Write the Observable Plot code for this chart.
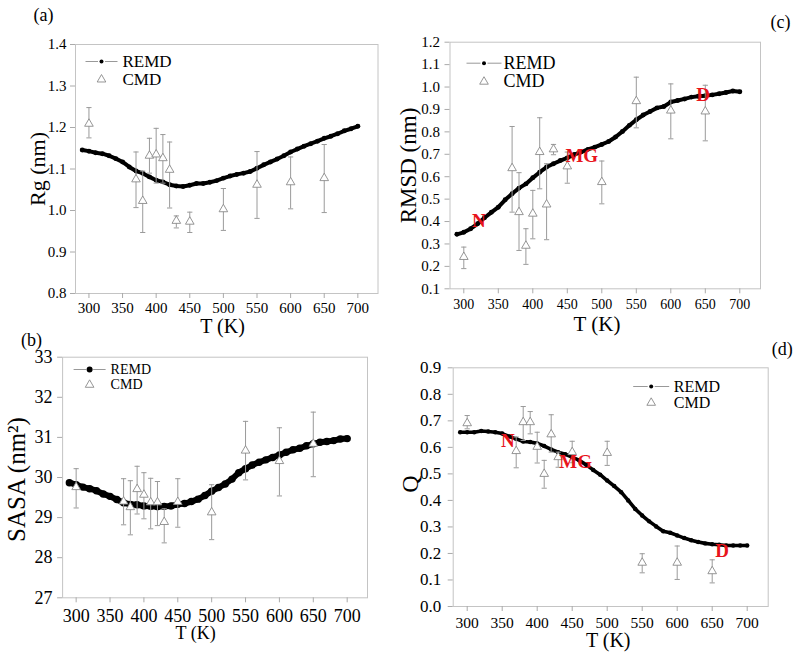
<!DOCTYPE html>
<html><head><meta charset="utf-8">
<script src="https://cdn.jsdelivr.net/npm/d3@7"></script>
<script src="https://cdn.jsdelivr.net/npm/@observablehq/plot@0.6"></script>
<style>
body{margin:0;background:#fff;}
#wrap{position:relative;width:800px;height:654px;overflow:hidden;background:#fff;}
#wrap svg{position:absolute;left:0;top:0;}
#wrap svg text{font-family:'Liberation Serif','Times New Roman',serif;}
</style></head><body><div id="wrap"></div>
<script>
// ---- data ----
const remdT = [290,300,310,320,330,340,350,360,370,380,390,400,410,420,430,440,450,460,470,480,490,500,510,520,530,540,550,560,570,580,590,600,610,620,630,640,650,660,670,680,690,700];
const remdRg = [1.146,1.143,1.139,1.137,1.132,1.125,1.117,1.105,1.095,1.090,1.081,1.073,1.069,1.062,1.059,1.058,1.061,1.065,1.065,1.068,1.072,1.078,1.083,1.087,1.090,1.094,1.102,1.110,1.117,1.124,1.132,1.141,1.148,1.155,1.161,1.167,1.174,1.179,1.185,1.192,1.197,1.203];
const remdRMSD = [0.343,0.352,0.368,0.390,0.417,0.441,0.464,0.497,0.524,0.549,0.568,0.595,0.620,0.643,0.658,0.672,0.684,0.699,0.710,0.722,0.732,0.744,0.757,0.777,0.802,0.829,0.854,0.875,0.891,0.907,0.913,0.933,0.940,0.947,0.955,0.959,0.961,0.965,0.970,0.976,0.982,0.979];
const remdSASA = [29.87,29.82,29.76,29.72,29.67,29.59,29.53,29.45,29.37,29.33,29.32,29.29,29.28,29.27,29.28,29.29,29.33,29.35,29.40,29.46,29.55,29.66,29.75,29.84,29.96,30.12,30.22,30.31,30.38,30.44,30.50,30.56,30.63,30.69,30.73,30.79,30.84,30.88,30.90,30.92,30.96,30.97];
const remdQ = [0.657,0.657,0.657,0.662,0.660,0.657,0.652,0.641,0.632,0.622,0.620,0.615,0.605,0.592,0.582,0.574,0.563,0.551,0.534,0.515,0.497,0.475,0.454,0.431,0.400,0.368,0.343,0.321,0.302,0.284,0.278,0.268,0.258,0.250,0.243,0.238,0.235,0.233,0.230,0.230,0.230,0.230];

const cmdT = [300,370,380,390,400,410,420,430,450,500,550,600,650];
const cmdRg   = [1.209,1.075,1.023,1.132,1.135,1.126,1.098,0.975,0.973,1.003,1.062,1.068,1.078];
const cmdRgHi = [1.248,1.141,1.095,1.174,1.198,1.183,1.165,0.987,0.996,1.053,1.142,1.129,1.159];
const cmdRgLo = [1.175,1.007,0.947,1.090,1.066,1.066,1.006,0.958,0.947,0.952,0.981,1.004,0.995];
const cmdRMSD   = [0.242,0.638,0.442,0.292,0.435,0.710,0.476,0.722,0.646,0.576,0.937,0.895,0.891];
const cmdRMSDHi = [0.286,0.824,0.618,0.368,0.539,0.863,0.658,0.744,0.710,0.670,1.044,1.014,1.008];
const cmdRMSDLo = [0.190,0.442,0.271,0.209,0.323,0.546,0.319,0.698,0.571,0.479,0.818,0.769,0.760];
const cmdSASA   = [29.76,29.40,29.26,29.71,29.57,29.38,29.38,28.89,29.39,29.13,30.67,30.41,30.84];
const cmdSASAHi = [30.22,29.97,29.92,30.28,30.12,29.98,29.90,29.22,29.97,29.82,31.40,31.24,31.63];
const cmdSASALo = [29.24,28.82,28.57,29.09,28.97,28.72,28.80,28.37,28.76,28.45,29.94,29.54,30.02];
const cmdQ   = [0.691,0.586,0.695,0.695,0.602,0.500,0.649,0.563,0.582,0.579,0.165,0.165,0.133];
const cmdQHi = [0.720,0.639,0.754,0.735,0.657,0.551,0.723,0.582,0.623,0.623,0.199,0.228,0.176];
const cmdQLo = [0.670,0.523,0.626,0.651,0.541,0.446,0.582,0.525,0.542,0.532,0.127,0.102,0.089];

const stateLabels = ["N","MG","D"];
const stateRMSD_T = [322,471,647];
const stateRMSD_V = [0.405,0.695,0.965];
const stateQ_T = [358,455,664];
const stateQ_V = [0.623,0.544,0.211];

const xTicks = [300,350,400,450,500,550,600,650,700];
const yTicksRg = [0.8,0.9,1.0,1.1,1.2,1.3,1.4];
const yTicksRMSD = [0.1,0.2,0.3,0.4,0.5,0.6,0.7,0.8,0.9,1.0,1.1,1.2];
const yTicksSASA = [27,28,29,30,31,32,33];
const yTicksQ = [0.0,0.1,0.2,0.3,0.4,0.5,0.6,0.7,0.8,0.9];

// ---- drawing ----
const SERIF = "'Liberation Serif','Times New Roman',serif";
const hline = {draw(ctx, size){ const r = Math.sqrt(size/Math.PI); ctx.moveTo(-r,0); ctx.lineTo(r,0); }};
const legLine = {draw(ctx, size){ const r = Math.sqrt(size/Math.PI); ctx.moveTo(-r,0); ctx.lineTo(-3.5,0); ctx.moveTo(3.5,0); ctx.lineTo(r,0); }};

function panel(c){
  const W = 800, H = 654;
  const T = {fontFamily:SERIF, fill:"black"};
  const marks = [
    Plot.frame({stroke:"#c4c4c4", strokeWidth:1}),
    Plot.axisX(xTicks, {...T, tickSize:5, tickPadding:c.xPad, stroke:"#aaa", fontSize:c.xFont, label:null, tickFormat:d=>String(d)}),
    Plot.axisY(c.yTicks, {...T, tickSize:5, tickPadding:c.yPad, stroke:"#aaa", fontSize:c.yFont, label:null, tickFormat:c.yFmt}),
    Plot.line(c.remd, {x:remdT, y:d=>d, stroke:"black", strokeWidth:c.lw, curve:"linear"}),
    Plot.dot(c.remd, {x:remdT, y:d=>d, r:c.lw*0.62, fill:"black"}),
    Plot.ruleX(cmdT, {x:d=>d, y1:c.lo, y2:c.hi, stroke:"#9a9a9a", strokeWidth:1}),
    Plot.dot(cmdT, {x:d=>d, y:c.hi, symbol:hline, r:2.6, stroke:"#9a9a9a", fill:"none", strokeWidth:1}),
    Plot.dot(cmdT, {x:d=>d, y:c.lo, symbol:hline, r:2.6, stroke:"#9a9a9a", fill:"none", strokeWidth:1}),
    Plot.dot(cmdT, {x:d=>d, y:c.mean, symbol:"triangle", r:3.2, fill:"white", stroke:"#8a8a8a", strokeWidth:0.9}),
    // legend
    Plot.dot([0], {frameAnchor:"top-left", dx:c.leg[0], dy:c.leg[1], symbol:legLine, r:c.legHalf, stroke:"#999", fill:"none", strokeWidth:1}),
    Plot.dot([0], {frameAnchor:"top-left", dx:c.leg[0], dy:c.leg[1], r:c.legDot, fill:"black"}),
    Plot.dot([0], {frameAnchor:"top-left", dx:c.leg[0], dy:c.leg[1]+c.legGap, symbol:"triangle", r:3.2, fill:"white", stroke:"#8a8a8a", strokeWidth:0.9}),
    Plot.text(["REMD"], {...T, frameAnchor:"top-left", dx:c.leg[2], dy:c.leg[1], text:d=>d, textAnchor:"start", lineAnchor:"middle", fontSize:c.legFont}),
    Plot.text(["CMD"], {...T, frameAnchor:"top-left", dx:c.leg[2], dy:c.leg[1]+c.legGap, text:d=>d, textAnchor:"start", lineAnchor:"middle", fontSize:c.legFont}),
    // axis titles
    Plot.text([c.yLabel], {...T, frameAnchor:"left", dx:c.yLab[0], dy:c.yLab[1], rotate:-90, text:d=>d, textAnchor:"middle", lineAnchor:"middle", fontSize:c.yLabFont}),
    Plot.text(["T (K)"], {...T, frameAnchor:"bottom-left", dx:c.xLab[0], dy:c.xLab[1], text:d=>d, textAnchor:"middle", lineAnchor:"middle", fontSize:c.xLabFont}),
    // panel letter
    Plot.text([c.letter], {...T, frameAnchor:c.letAnchor, dx:c.let[0], dy:c.let[1], text:d=>d, textAnchor:"middle", lineAnchor:"middle", fontSize:18})
  ];
  if (c.states) marks.push(Plot.text(stateLabels, {x:c.states[0], y:c.states[1], text:d=>d, fill:"#e8141b", fontFamily:SERIF, fontWeight:"bold", fontSize:19, lineAnchor:"middle", textAnchor:"middle"}));
  const svg = Plot.plot({
    width:W, height:H,
    marginLeft:c.box[0], marginRight:W-c.box[1], marginTop:c.box[2], marginBottom:H-c.box[3],
    x:{domain:[280,730]},
    y:{domain:c.yDomain},
    style:{background:"transparent", overflow:"visible", fontFamily:SERIF, color:"black"},
    marks
  });
  document.getElementById("wrap").appendChild(svg);
}

const f1 = d3.format(".1f");
panel({letter:"(a)", letAnchor:"top-left", let:[-32,-29], box:[75,377.5,44,293], yDomain:[0.8,1.4], yTicks:yTicksRg, yFmt:f1,
  remd:remdRg, mean:cmdRg, hi:cmdRgHi, lo:cmdRgLo, lw:4,
  xFont:15, yFont:15, xPad:4, yPad:4, yLabel:"Rg (nm)", yLab:[-38,0], yLabFont:22, xLab:[147,33.5], xLabFont:20,
  leg:[26,17,47], legGap:18, legHalf:16, legDot:2, legFont:17});
panel({letter:"(b)", letAnchor:"top-left", let:[-31,-17], box:[62.1,367,356.7,597.3], yDomain:[27,33], yTicks:yTicksSASA, yFmt:d3.format("d"),
  remd:remdSASA, mean:cmdSASA, hi:cmdSASAHi, lo:cmdSASALo, lw:6,
  xFont:18, yFont:18, xPad:6, yPad:5, yLabel:"SASA (nm²)", yLab:[-46,2], yLabFont:25, xLab:[133,35], xLabFont:18,
  leg:[27,12.3,48], legGap:15.3, legHalf:16, legDot:3, legFont:14});
panel({letter:"(c)", letAnchor:"top-right", let:[20,-20], box:[449.5,760,41.7,288.3], yDomain:[0.1,1.2], yTicks:yTicksRMSD, yFmt:f1,
  remd:remdRMSD, mean:cmdRMSD, hi:cmdRMSDHi, lo:cmdRMSDLo, lw:4, states:[stateRMSD_T, stateRMSD_V],
  xFont:14, yFont:15, xPad:5, yPad:5, yLabel:"RMSD (nm)", yLab:[-41.5,0], yLabFont:23, xLab:[147,35], xLabFont:21,
  leg:[34,21,53.5], legGap:18.5, legHalf:17.5, legDot:2, legFont:18});
panel({letter:"(d)", letAnchor:"top-right", let:[14,-19], box:[452.7,767.7,367.3,606], yDomain:[0,0.9], yTicks:yTicksQ, yFmt:f1,
  remd:remdQ, mean:cmdQ, hi:cmdQHi, lo:cmdQLo, lw:3.6, states:[stateQ_T, stateQ_V],
  xFont:15.5, yFont:17, xPad:5, yPad:7, yLabel:"Q", yLab:[-43,-3], yLabFont:24, xLab:[155,34], xLabFont:20,
  leg:[198,18.7,220.6], legGap:16.3, legHalf:18, legDot:2, legFont:16});
</script></body></html>
